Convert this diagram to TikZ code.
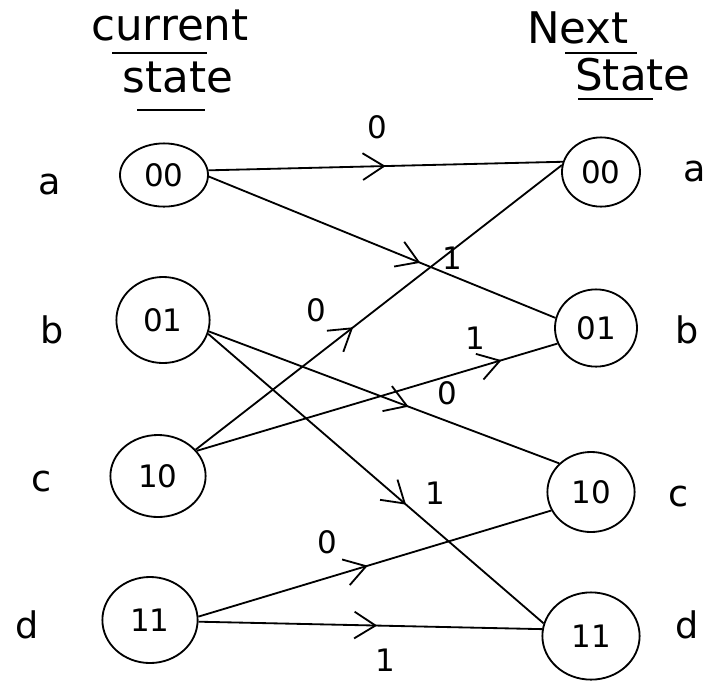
\documentclass[tikz,border=0pt]{standalone}
\usepackage{fontspec}
\setmainfont{DejaVu Sans}
\usetikzlibrary{arrows.meta, shapes.geometric, decorations.markings}

\tikzset{
  st/.style 2 args={draw, ellipse, line width=1.3pt, inner sep=0pt,
    minimum width=#1cm, minimum height=#2cm, font=\fontsize{22}{26}\selectfont},
  tag/.style={font=\fontsize{26}{30}\selectfont},
  bit/.style={font=\fontsize{22}{26}\selectfont},
  head/.style={anchor=base, font=\fontsize{31}{36}\selectfont},
  bar/.style={line width=1.3pt},
  tr/.style={line width=1.3pt,
    decoration={markings, mark=at position #1 with
      {\arrow[line width=1.3pt]{Straight Barb[length=15pt, width=19pt]}}},
    postaction={decorate}}
}

\begin{document}
\begin{tikzpicture}[x=0.025cm, y=-0.025cm]
    \useasboundingbox (0,0) rectangle (710,680);

    % Headings
    \node[head] (cur) at (170,40) {current};
    \node[head] (st1) at (178,92) {state};
    \node[head] (nxt) at (578,43) {Next};
    \node[head] (st2) at (633,90) {State};
    \draw[bar] (112,53) -- (207,53);
    \draw[bar] (137,110) -- (205,110);
    \draw[bar] (565,53) -- (637,53);
    \draw[bar] (578,99) -- (653,99);

    % Current states
    \node[st={2.2}{1.58}] (s00) at (164,175) {00};
    \node[st={2.33}{2.15}] (s01) at (163,320) {01};
    \node[st={2.38}{2.05}] (s10) at (158,476) {10};
    \node[st={2.38}{2.15}] (s11) at (150,620) {11};
    \node[tag] (la) at (50,185) {a};
    \node[tag] (lb) at (52,330) {b};
    \node[tag] (lc) at (42,482) {c};
    \node[tag] (ld) at (27,625) {d};

    % Next states
    \node[st={1.95}{1.73}] (n00) at (601,172) {00};
    \node[st={2.05}{1.93}] (n01) at (596,328) {01};
    \node[st={2.18}{2.0}] (n10) at (591,492) {10};
    \node[st={2.43}{2.18}] (n11) at (591,636) {11};
    \node[tag] (ra) at (695,172) {a};
    \node[tag] (rb) at (687,330) {b};
    \node[tag] (rc) at (679,497) {c};
    \node[tag] (rd) at (687,625) {d};

    % Transitions
    \draw[tr=0.5] (s00.6) -- (n00.165);
    \draw[tr=0.61] (s00.-2) -- (n01.166);
    \draw[tr=0.43] (s10.35) -- (n00.170);
    \draw[tr=0.845] (s10.33) -- (n01.202);
    \draw[tr=0.57] (s01.-14) -- (n10.138);
    \draw[tr=0.59] (s01.-17) -- (n11.165);
    \draw[tr=0.48] (s11.4) -- (n10.205);
    \draw[tr=0.52] (s11.-2) -- (n11.172);

    % Input bits
    \node[bit] (q1) at (377,127) {0};
    \node[bit] (q2) at (452,258) {1};
    \node[bit] (q3) at (316,310) {0};
    \node[bit] (q4) at (475,338) {1};
    \node[bit] (q5) at (447,393) {0};
    \node[bit] (q6) at (435,493) {1};
    \node[bit] (q7) at (327,542) {0};
    \node[bit] (q8) at (385,660) {1};
\end{tikzpicture}
\end{document}
